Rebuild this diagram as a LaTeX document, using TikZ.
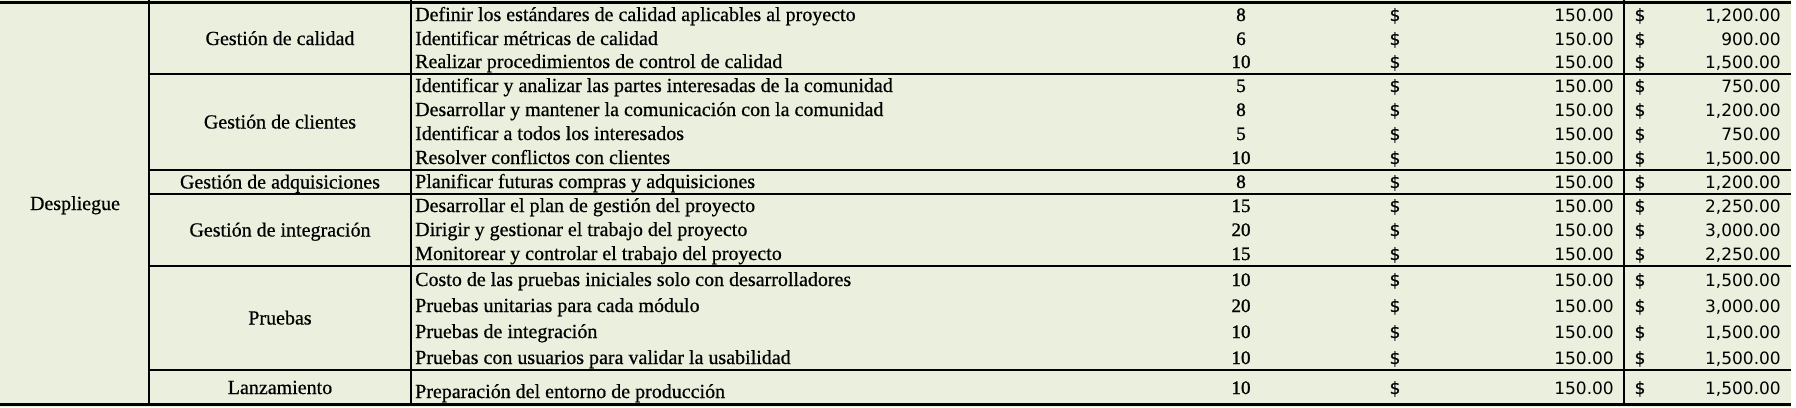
\documentclass[tikz,border=0pt]{standalone}
\usepackage{fontspec}
\setmainfont{Liberation Serif}
\newfontfamily\cellfont{Liberation Serif}[RawFeature={embolden=0.6}]
\newfontfamily\hrsfont{Liberation Serif}[AutoFakeBold=1.2]
\newfontfamily\numfont{DejaVu Sans}
\newfontfamily\usdfont{DejaVu Sans}[RawFeature={embolden=0.8}]
\definecolor{cellbg}{RGB}{235,239,222}

\begin{document}
\begin{tikzpicture}[x=1pt,y=-1pt,
  txt/.style={anchor=base west,inner sep=0pt,font=\cellfont\fontsize{20}{24}\selectfont},
  lbl/.style={anchor=base,inner sep=0pt,font=\cellfont\fontsize{20}{24}\selectfont},
  hrs/.style={anchor=base,inner sep=0pt,font=\hrsfont\bfseries\fontsize{19}{24}\selectfont},
  cur/.style={anchor=base,inner sep=0pt,font=\usdfont\fontsize{17}{20}\selectfont},
  amt/.style={anchor=base east,inner sep=0pt,font=\numfont\fontsize{17}{20}\selectfont},
  rule/.style={line width=2pt},
  edge/.style={line width=3pt}]
\useasboundingbox (0,0) rectangle (1796,407);
% Fill the cells with the light green of the sheet
\fill[cellbg] (0,0) rectangle (1791,407);
\fill[white] (1791,0) rectangle (1796,407);
% Phase label spanning all rows
\node[lbl] (phase) at (75,210) {Despliegue};
% Group labels, centred in their block of rows
\node[lbl] (grp-calidad) at (280,45) {Gestión de calidad};
\node[lbl] (grp-clientes) at (280,128.5) {Gestión de clientes};
\node[lbl] (grp-adquisiciones) at (280,188.5) {Gestión de adquisiciones};
\node[lbl] (grp-integracion) at (280,236.5) {Gestión de integración};
\node[lbl] (grp-pruebas) at (280,324.5) {Pruebas};
\node[lbl] (grp-lanzamiento) at (280,394) {Lanzamiento};
% Task rows: number / baseline / task / hours / total
\foreach \i/\y/\task/\h/\tot in {
  1/21/Definir los estándares de calidad aplicables al proyecto/8/{1,200.00},
  2/45/Identificar métricas de calidad/6/{900.00},
  3/68/Realizar procedimientos de control de calidad/10/{1,500.00},
  4/92/Identificar y analizar las partes interesadas de la comunidad/5/{750.00},
  5/116/Desarrollar y mantener la comunicación con la comunidad/8/{1,200.00},
  6/140/Identificar a todos los interesados/5/{750.00},
  7/164/Resolver conflictos con clientes/10/{1,500.00},
  8/188/Planificar futuras compras y adquisiciones/8/{1,200.00},
  9/212/Desarrollar el plan de gestión del proyecto/15/{2,250.00},
  10/236/Dirigir y gestionar el trabajo del proyecto/20/{3,000.00},
  11/260/Monitorear y controlar el trabajo del proyecto/15/{2,250.00},
  12/286/Costo de las pruebas iniciales solo con desarrolladores/10/{1,500.00},
  13/312/Pruebas unitarias para cada módulo/20/{3,000.00},
  14/338/Pruebas de integración/10/{1,500.00},
  15/364/Pruebas con usuarios para validar la usabilidad/10/{1,500.00}}{
  \node[txt] (task-\i) at (415,\y) {\task};
  \node[hrs] (hrs-\i) at (1241,\y) {\h};
  \node[cur] (cur-\i) at (1395,\y) {\$};
  \node[amt] (rate-\i) at (1614,\y) {150.00};
  \node[cur] (cur2-\i) at (1640,\y) {\$};
  \node[amt] (total-\i) at (1781,\y) {\tot};
}
% Last row sits a little lower in its taller cell
\node[txt] (task-16) at (415,398) {Preparación del entorno de producción};
\node[hrs] (hrs-16) at (1241,394) {10};
\node[cur] (cur-16) at (1395,394) {\$};
\node[amt] (rate-16) at (1614,394) {150.00};
\node[cur] (cur2-16) at (1640,394) {\$};
\node[amt] (total-16) at (1781,394) {1,500.00};
% Rules between groups
\foreach \y in {74,170,194,266,370}
  \draw[rule] (149,\y) -- (1791,\y);
% Top and bottom edges
\draw[edge] (0,2) -- (1791,2);
\draw[edge] (0,404.5) -- (1791,404.5);
% Column rules
\foreach \x in {149,411,1624}
  \draw[rule] (\x,0) -- (\x,405);
\end{tikzpicture}
\end{document}
